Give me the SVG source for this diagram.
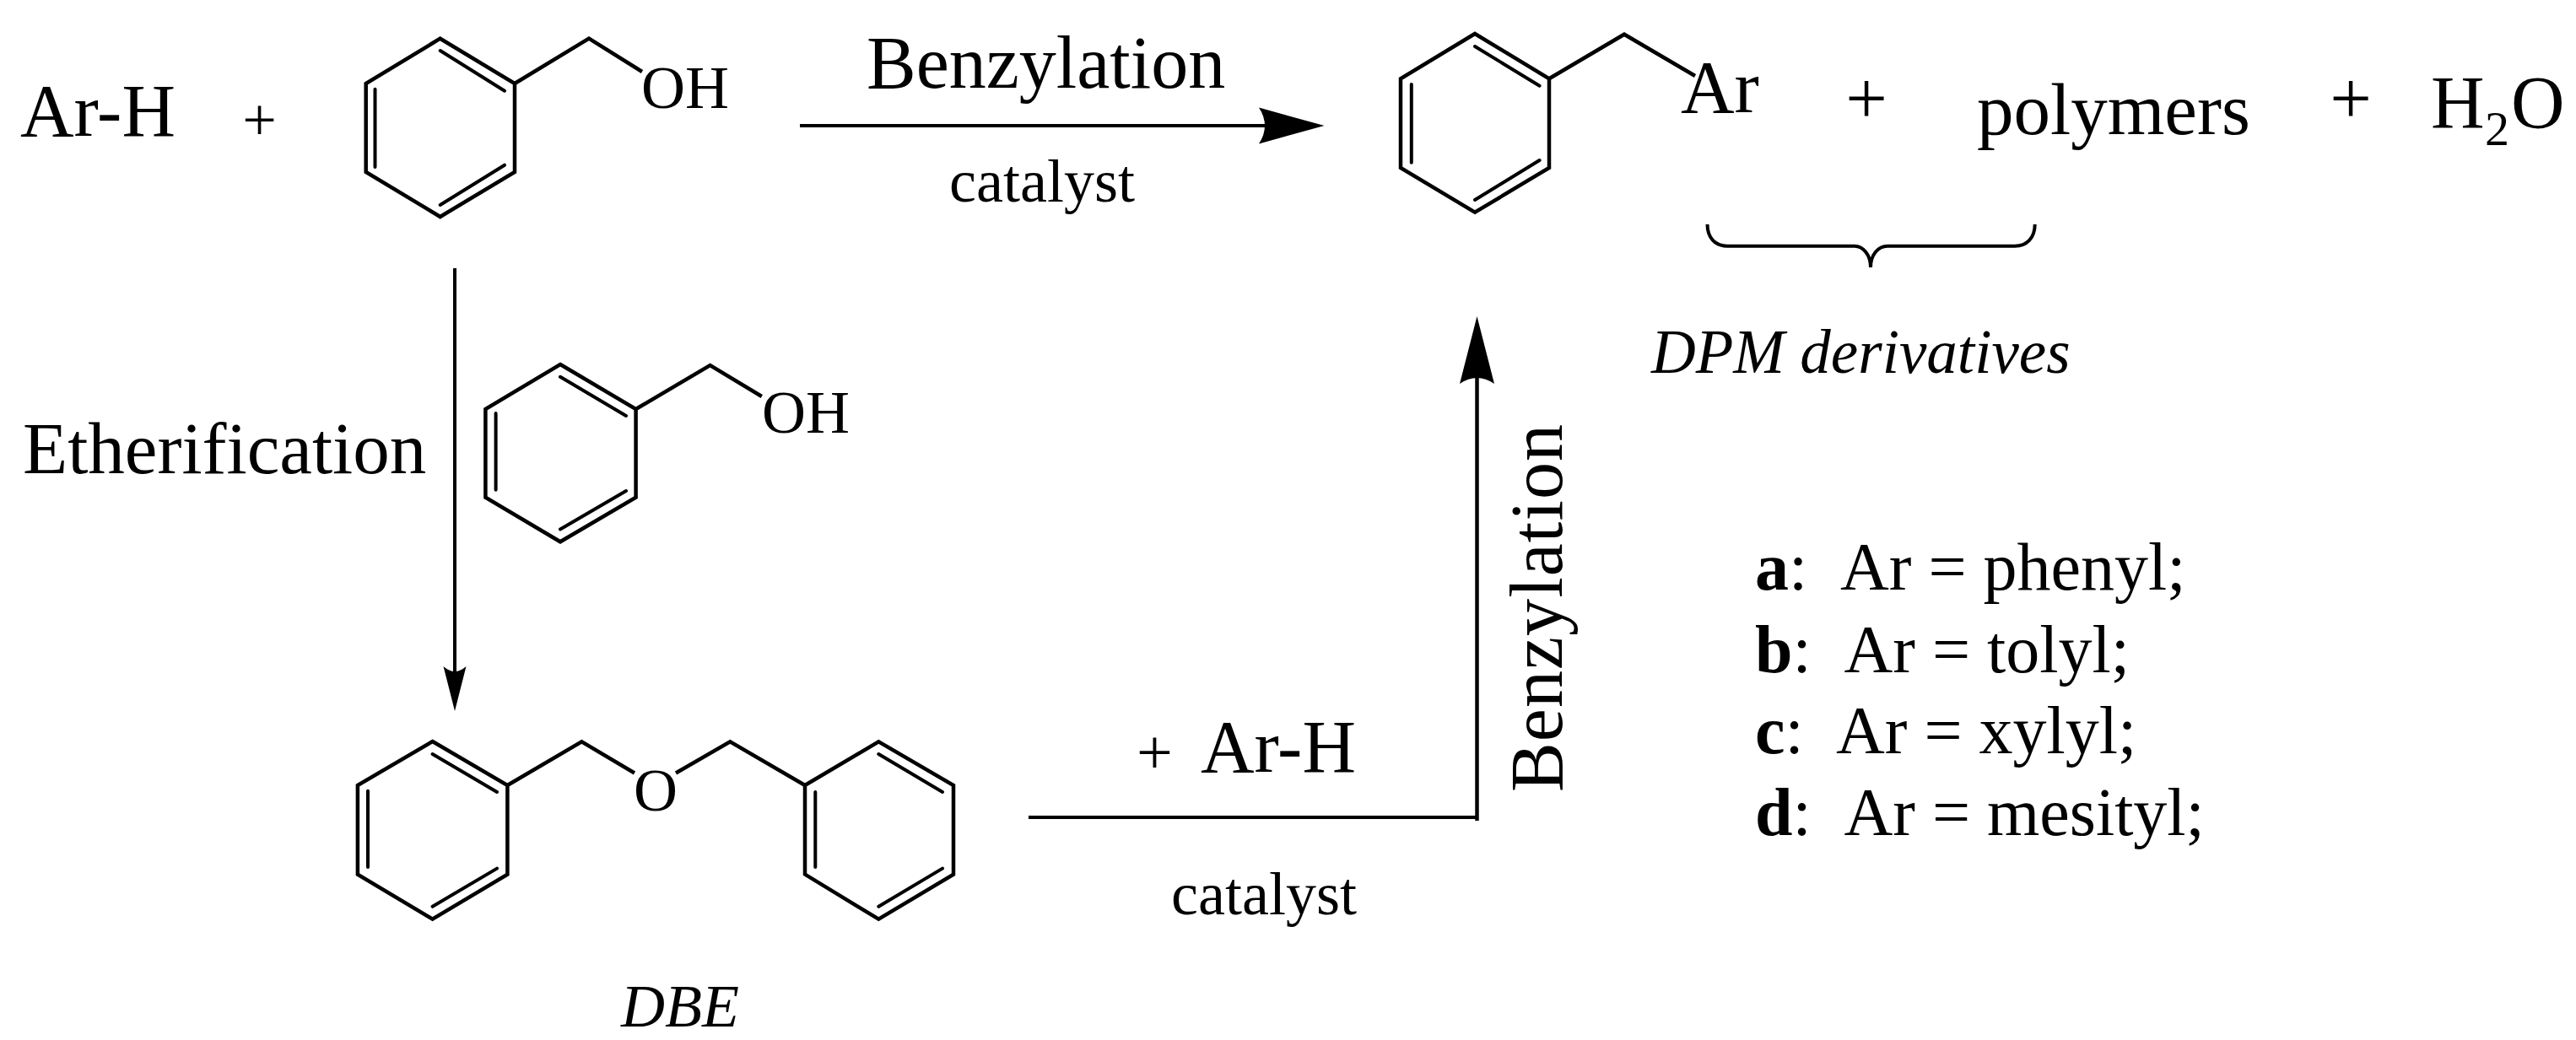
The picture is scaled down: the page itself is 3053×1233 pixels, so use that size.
<svg xmlns="http://www.w3.org/2000/svg" width="3053" height="1233" viewBox="0 0 3053 1233">
<style>
text{font-family:"Liberation Serif","Times New Roman",serif;fill:#000}
.l{font-size:88px}.m{font-size:72px}.k{font-size:80px}
.i{font-style:italic}.b{font-weight:bold}
.bond{fill:none;stroke:#000;stroke-width:4.5;stroke-linejoin:miter}
.inner{fill:none;stroke:#000;stroke-width:4;stroke-linecap:round}
.conn{fill:none;stroke:#000;stroke-width:4}
</style>
<defs>
<marker id="headBig" markerUnits="userSpaceOnUse" markerWidth="78" markerHeight="43" refX="18" refY="21.5" orient="auto" overflow="visible"><path d="M0,0 L77.5,21.5 L0,43 Q14,21.5 0,0Z"/></marker>
<marker id="headDown" markerUnits="userSpaceOnUse" markerWidth="53" markerHeight="27" refX="15" refY="13.5" orient="auto" overflow="visible"><path d="M0,0 L53,13.5 L0,27 Q12,13.5 0,0Z"/></marker>
<marker id="headUp" markerUnits="userSpaceOnUse" markerWidth="80" markerHeight="41" refX="15" refY="20.5" orient="auto" overflow="visible"><path d="M0,0 L80,20.5 L0,41 Q14,20.5 0,0Z"/></marker>
</defs>
<rect width="3053" height="1233" fill="#fff"/>

<g id="connectors">
<path class="conn" d="M948,149H1510" marker-end="url(#headBig)"/>
<path class="conn" d="M539,318V805" marker-end="url(#headDown)"/>
<path class="conn" d="M1219,969H1752"/>
<path class="conn" style="stroke-width:4.5" d="M1750.5,973V440" marker-end="url(#headUp)"/>
</g>

<g id="reactant-arh"><text class="l" x="24" y="161">Ar-H</text></g>
<g id="plus-1"><text style="font-size:72px" x="307.5" y="166" text-anchor="middle">+</text></g>

<g id="benzyl-alcohol">
<path class="bond" d="M521.7,45.7L610,99V204L521.7,257L433.7,204V99ZM610,99L698,45.7L761,85"/>
<path class="inner" d="M521.7,60L598,107.7M444.5,105.7V198M598,195.7L521.7,243"/>
<text class="m" x="760" y="127.5">OH</text>
</g>

<g id="label-benzylation-top"><text class="l" x="1027" y="104">Benzylation</text></g>
<g id="label-catalyst-top"><text class="m" x="1125" y="238.5">catalyst</text></g>

<g id="product">
<path class="bond" d="M1748,40L1836,93.3V199L1748,251.7L1660,199V93.3ZM1836,93.3L1925,40.7L2009,90"/>
<path class="inner" d="M1748,55L1824.6,101.7M1672.8,100V192.7M1824.6,190L1748,237"/>
<text class="l" x="1992" y="132.5">Ar</text>
</g>
<g id="plus-2"><text class="l" x="2212" y="146" text-anchor="middle">+</text></g>
<g id="polymers"><text style="font-size:87px" x="2343" y="159">polymers</text></g>
<g id="plus-3"><text class="l" x="2786" y="146" text-anchor="middle">+</text></g>
<g id="water"><text class="l" x="2881" y="151">H</text><text style="font-size:58px" x="2945" y="172">2</text><text class="l" x="2976" y="151">O</text></g>

<g id="brace"><path class="conn" d="M2023.5,266C2023.5,282 2033,291.7 2047,291.7H2198C2208,291.7 2217,302 2217,317C2217,302 2226,291.7 2237,291.7H2388C2402,291.7 2411.7,282 2411.7,266"/></g>
<g id="label-dpm"><text class="i" style="font-size:73px" x="1957" y="441.5">DPM derivatives</text></g>

<g id="label-etherification"><text style="font-size:87px" x="27" y="561">Etherification</text></g>

<g id="benzyl-alcohol-2">
<path class="bond" d="M664,432L753.6,485V589.7L664,642.3L575.4,589.7V485ZM753.6,485L841.6,433L902.8,470"/>
<path class="inner" d="M664,446.8L742,493M587.6,490V580.7M742,582L664,627.4"/>
<text class="m" x="903" y="513">OH</text>
</g>

<g id="dbe">
<path class="bond" d="M512.6,879L601.4,931V1036.6L512.6,1089.7L423.9,1036.6V931ZM601.4,931L689.4,879.3L752,916.5M801,916.5L865.3,879.3L954,931"/>
<path class="bond" d="M954,931L1041.3,879.3L1130,931V1036.6L1041.3,1089.7L954,1036.6Z"/>
<path class="inner" d="M512.6,894L589,939M436,937.7V1028M589,1029.6L512.6,1074.8M1041.3,894L1117,939M966.3,939V1028M1117,1029.6L1041.3,1074.8"/>
<text class="m" x="751" y="960.5">O</text>
</g>
<g id="label-dbe"><text class="m i" x="736" y="1217">DBE</text></g>

<g id="label-plus-arh"><text style="font-size:76px" x="1368.5" y="917" text-anchor="middle">+</text><text class="l" x="1423" y="915">Ar-H</text></g>
<g id="label-catalyst-bottom"><text class="m" x="1388" y="1083.5">catalyst</text></g>
<g id="label-benzylation-side"><text class="l" transform="translate(1851 939) rotate(-90)" textLength="436">Benzylation</text></g>

<g id="legend">
<text class="k" x="2080" y="699"><tspan class="b">a</tspan>:</text><text class="k" x="2181" y="699">Ar = phenyl;</text>
<text class="k" x="2080" y="796.5"><tspan class="b">b</tspan>:</text><text class="k" x="2185.5" y="796.5">Ar = tolyl;</text>
<text class="k" x="2080" y="893"><tspan class="b">c</tspan>:</text><text class="k" x="2176" y="893">Ar = xylyl;</text>
<text class="k" x="2080" y="990"><tspan class="b">d</tspan>:</text><text class="k" x="2185.5" y="990">Ar = mesityl;</text>
</g>
</svg>
